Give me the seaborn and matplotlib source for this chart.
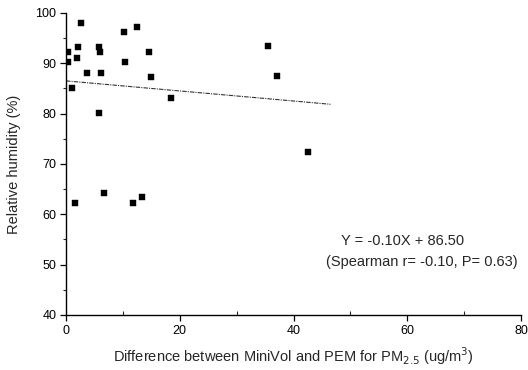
import numpy as np
import pandas as pd
import matplotlib
matplotlib.use("Agg")
import matplotlib.pyplot as plt
import seaborn as sns
from matplotlib.ticker import MultipleLocator

diff = [0.4, 0.35, 1.1, 2.6, 2.05, 1.9, 3.7, 5.85, 5.9, 6.2, 5.8, 6.6, 10.2, 10.4,
        12.5, 14.6, 14.9, 18.4, 35.5, 37.1, 42.5, 1.5, 11.7, 13.3]
rh = [92.2, 90.2, 85.1, 98.1, 93.2, 91.1, 88.1, 93.2, 92.3, 88.1, 80.2, 64.2, 96.3, 90.3,
      97.3, 92.3, 87.2, 83.1, 93.4, 87.5, 72.3, 62.2, 62.3, 63.4]
slope = -0.10
intercept = 86.50
fit_range = [0, 46.5]

sns.set_theme(style="white")
plt.rcParams['font.family'] = ['Liberation Sans', 'DejaVu Sans']

fig = plt.figure(figsize=(5.28, 3.70), dpi=100)
ax = fig.add_axes([0.125, 0.149, 0.862, 0.816])

df = pd.DataFrame({"x": diff, "y": rh})
sns.scatterplot(data=df, x="x", y="y", marker="s", s=24, color="black",
                edgecolor="black", linewidth=0.3, ax=ax, zorder=3)

lx = np.array(fit_range)
sns.lineplot(x=lx, y=slope * lx + intercept, ax=ax, color="#333333",
             linewidth=0.8, linestyle=(0, (4, 1, 1, 1)))

ax.set_xlim(0, 80)
ax.set_ylim(40, 100)
ax.xaxis.set_major_locator(MultipleLocator(20))
ax.xaxis.set_minor_locator(MultipleLocator(10))
ax.yaxis.set_major_locator(MultipleLocator(10))
ax.yaxis.set_minor_locator(MultipleLocator(5))
for s in ["top", "right"]:
    ax.spines[s].set_visible(False)
for s in ["left", "bottom"]:
    ax.spines[s].set_color("black")
    ax.spines[s].set_linewidth(1.0)
ax.tick_params(axis="both", which="major", direction="out", length=4, width=0.9,
               colors="black", labelsize=9, bottom=True, left=True, pad=3)
ax.tick_params(axis="x", which="minor", direction="in", length=3, width=0.8, bottom=True)
ax.tick_params(axis="y", which="minor", direction="out", length=2.5, width=0.8, left=True)

ax.set_xlabel("Difference between MiniVol and PEM for PM$_{2.5}$ (ug/m$^3$)",
              fontsize=10.5, labelpad=6)
ax.set_ylabel("Relative humidity (%)", fontsize=10.5, labelpad=10)

ax.text(59.2, 54.7, "Y = -0.10X + 86.50", fontsize=10.5, ha="center", va="center")
ax.text(79.4, 50.5, "(Spearman r= -0.10, P= 0.63)", fontsize=10.5, ha="right", va="center")

fig.savefig("out.png", dpi=100)
